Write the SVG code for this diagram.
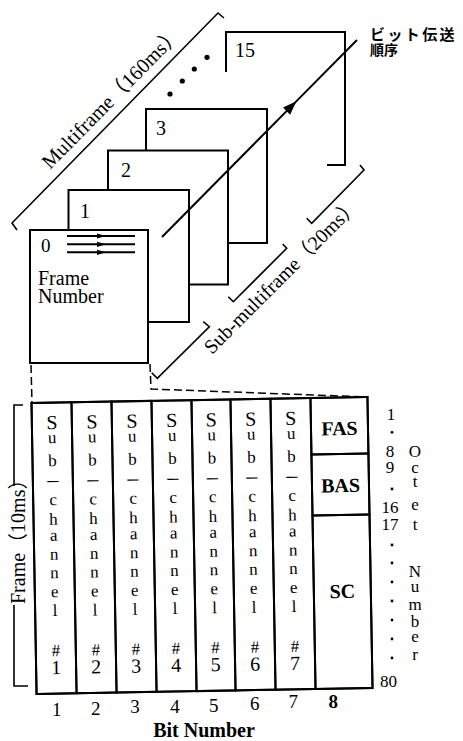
<svg xmlns="http://www.w3.org/2000/svg" width="463" height="741" viewBox="0 0 463 741">
<style>
.fr{fill:#fff;stroke:#000;stroke-width:2}
.ln{fill:none;stroke:#000;stroke-width:2}
.br{fill:none;stroke:#000;stroke-width:1.6}
.dsh{fill:none;stroke:#000;stroke-width:1.5;stroke-dasharray:8 4}
.t{font-family:"Liberation Serif","Noto Sans CJK JP",serif;fill:#000}
.s20{font-size:20px}
.s17{font-size:17px}
.s19{font-size:19px}
.jp{font-family:"Noto Sans CJK JP",sans-serif;font-weight:bold;fill:#000}
.col{font-family:"Liberation Serif",serif;font-size:17px;text-anchor:middle;fill:#000}
.col .S{font-size:20px}
.col .d{font-size:22px}
.col .h{font-size:17px}
.col .n{font-size:20px}
.mid{text-anchor:middle}
.b{font-weight:bold}
</style>
<defs>
<marker id="bigHead" markerUnits="userSpaceOnUse" markerWidth="20" markerHeight="20" orient="auto" overflow="visible">
<path d="M2,0 L-12,-5 L-12,5 Z" fill="#000"/>
</marker>
<marker id="smallHead" markerUnits="userSpaceOnUse" markerWidth="12" markerHeight="12" orient="auto" overflow="visible">
<path d="M2,0 L-7,-2.6 L-7,2.6 Z" fill="#000"/>
</marker>
</defs>

<!-- frames back to front -->
<g id="frame15">
<path class="ln" d="M226,72 V32 H345 V165 H327"/>
<text class="t s20" x="235" y="57">15</text>
</g>
<g id="ellipsis">
<circle cx="170" cy="94" r="2.6"/>
<circle cx="182.3" cy="81" r="2.6"/>
<circle cx="194.3" cy="69" r="2.6"/>
<circle cx="207" cy="57.3" r="2.6"/>
</g>
<g id="frame3">
<rect class="fr" x="146" y="109" width="121" height="134"/>
<text class="t s20" x="156" y="135">3</text>
</g>
<g id="frame2">
<rect class="fr" x="108" y="150.5" width="120" height="134"/>
<text class="t s20" x="121" y="177">2</text>
</g>
<g id="frame1">
<rect class="fr" x="68.5" y="190" width="120.5" height="132"/>
<text class="t s20" x="80" y="218">1</text>
</g>
<g id="frame0">
<rect class="fr" x="30" y="230" width="118" height="133"/>
<text class="t s19" x="41" y="252">0</text>
<path class="ln" stroke-width="1.6" d="M67,236 L104,236 L135,236" marker-mid="url(#smallHead)"/>
<path class="ln" stroke-width="1.6" d="M67,244.3 L104,244.3 L135,244.3" marker-mid="url(#smallHead)"/>
<path class="ln" stroke-width="1.6" d="M67,252.3 L104,252.3 L135,252.3" marker-mid="url(#smallHead)"/>
<text class="t s20" x="38" y="285">Frame</text>
<text class="t s20" x="38" y="303">Number</text>
</g>

<g id="connectors">
<path class="ln" stroke-width="3" d="M162,237 L295,102.6 L357,40" marker-mid="url(#bigHead)"/>
<path class="br" d="M17,230 L12,223 L218,13 L224,18"/>
<path class="br" d="M151.7,372.7 L157.3,378.3 L209.3,326.7 L203.3,321.7"/>
<path class="br" d="M228.3,296.7 L233.3,301.7 L286.7,248.3 L282.7,244"/>
<path class="br" d="M306.7,218.3 L311.7,223.3 L364,170 L360,165"/>
<path class="dsh" d="M31,365 L32,403"/>
<path class="dsh" d="M150,364 L151,389 L367,397"/>
<path class="br" d="M23,405 H14 V486"/>
<path class="br" d="M14,605 V686 H28"/>
</g>

<g id="labels">
<text class="t" style="font-size:20.5px" transform="translate(50,170) rotate(-45.5)">Multiframe（160ms）</text>
<text class="t s20" transform="translate(212,355) rotate(-45)">Sub-multiframe（20ms）</text>
<text class="t s20" transform="translate(25,604) rotate(-90)">Frame（10ms）</text>
<text class="jp" style="font-size:15px;letter-spacing:2.4px" x="370" y="40">ビット伝送</text>
<text class="jp" style="font-size:14px" x="370" y="54.5">順序</text>
</g>

<g id="table" transform="rotate(-1 202 545)">
<rect class="ln" x="34" y="400" width="336" height="291" stroke-width="2.2"/>
<g id="sub1">
<rect class="ln" x="34" y="400" width="40" height="291"/>
<text class="col"><tspan class="S" x="54" y="426.5">S</tspan><tspan x="54" y="440.5">u</tspan><tspan x="54" y="463.5">b</tspan><tspan class="d" x="54" y="484">–</tspan><tspan x="54" y="502.5">c</tspan><tspan x="54" y="522">h</tspan><tspan x="54" y="538">a</tspan><tspan x="54" y="557">n</tspan><tspan x="54" y="575.5">n</tspan><tspan x="54" y="594.5">e</tspan><tspan x="54" y="613.5">l</tspan><tspan class="h" x="54" y="653.5">#</tspan><tspan class="n" x="54" y="671.5">1</tspan></text>
</g>
<g id="sub2">
<rect class="ln" x="74" y="400" width="40" height="291"/>
<text class="col"><tspan class="S" x="94" y="426.5">S</tspan><tspan x="94" y="440.5">u</tspan><tspan x="94" y="463.5">b</tspan><tspan class="d" x="94" y="484">–</tspan><tspan x="94" y="502.5">c</tspan><tspan x="94" y="522">h</tspan><tspan x="94" y="538">a</tspan><tspan x="94" y="557">n</tspan><tspan x="94" y="575.5">n</tspan><tspan x="94" y="594.5">e</tspan><tspan x="94" y="613.5">l</tspan><tspan class="h" x="94" y="653.5">#</tspan><tspan class="n" x="94" y="671.5">2</tspan></text>
</g>
<g id="sub3">
<rect class="ln" x="114" y="400" width="40" height="291"/>
<text class="col"><tspan class="S" x="134" y="426.5">S</tspan><tspan x="134" y="440.5">u</tspan><tspan x="134" y="463.5">b</tspan><tspan class="d" x="134" y="484">–</tspan><tspan x="134" y="502.5">c</tspan><tspan x="134" y="522">h</tspan><tspan x="134" y="538">a</tspan><tspan x="134" y="557">n</tspan><tspan x="134" y="575.5">n</tspan><tspan x="134" y="594.5">e</tspan><tspan x="134" y="613.5">l</tspan><tspan class="h" x="134" y="653.5">#</tspan><tspan class="n" x="134" y="671.5">3</tspan></text>
</g>
<g id="sub4">
<rect class="ln" x="154" y="400" width="40" height="291"/>
<text class="col"><tspan class="S" x="174" y="426.5">S</tspan><tspan x="174" y="440.5">u</tspan><tspan x="174" y="463.5">b</tspan><tspan class="d" x="174" y="484">–</tspan><tspan x="174" y="502.5">c</tspan><tspan x="174" y="522">h</tspan><tspan x="174" y="538">a</tspan><tspan x="174" y="557">n</tspan><tspan x="174" y="575.5">n</tspan><tspan x="174" y="594.5">e</tspan><tspan x="174" y="613.5">l</tspan><tspan class="h" x="174" y="653.5">#</tspan><tspan class="n" x="174" y="671.5">4</tspan></text>
</g>
<g id="sub5">
<rect class="ln" x="194" y="400" width="39" height="291"/>
<text class="col"><tspan class="S" x="213.5" y="426.5">S</tspan><tspan x="213.5" y="440.5">u</tspan><tspan x="213.5" y="463.5">b</tspan><tspan class="d" x="213.5" y="484">–</tspan><tspan x="213.5" y="502.5">c</tspan><tspan x="213.5" y="522">h</tspan><tspan x="213.5" y="538">a</tspan><tspan x="213.5" y="557">n</tspan><tspan x="213.5" y="575.5">n</tspan><tspan x="213.5" y="594.5">e</tspan><tspan x="213.5" y="613.5">l</tspan><tspan class="h" x="213.5" y="653.5">#</tspan><tspan class="n" x="213.5" y="671.5">5</tspan></text>
</g>
<g id="sub6">
<rect class="ln" x="233" y="400" width="40" height="291"/>
<text class="col"><tspan class="S" x="253" y="426.5">S</tspan><tspan x="253" y="440.5">u</tspan><tspan x="253" y="463.5">b</tspan><tspan class="d" x="253" y="484">–</tspan><tspan x="253" y="502.5">c</tspan><tspan x="253" y="522">h</tspan><tspan x="253" y="538">a</tspan><tspan x="253" y="557">n</tspan><tspan x="253" y="575.5">n</tspan><tspan x="253" y="594.5">e</tspan><tspan x="253" y="613.5">l</tspan><tspan class="h" x="253" y="653.5">#</tspan><tspan class="n" x="253" y="671.5">6</tspan></text>
</g>
<g id="sub7">
<rect class="ln" x="273" y="400" width="40" height="291"/>
<text class="col"><tspan class="S" x="293" y="426.5">S</tspan><tspan x="293" y="440.5">u</tspan><tspan x="293" y="463.5">b</tspan><tspan class="d" x="293" y="484">–</tspan><tspan x="293" y="502.5">c</tspan><tspan x="293" y="522">h</tspan><tspan x="293" y="538">a</tspan><tspan x="293" y="557">n</tspan><tspan x="293" y="575.5">n</tspan><tspan x="293" y="594.5">e</tspan><tspan x="293" y="613.5">l</tspan><tspan class="h" x="293" y="653.5">#</tspan><tspan class="n" x="293" y="671.5">7</tspan></text>
</g>
<g id="fas">
<rect class="ln" x="313" y="400" width="57" height="56.5"/>
<text class="t s20 mid b" x="341.5" y="437.5">FAS</text>
</g>
<g id="bas">
<rect class="ln" x="313" y="456.5" width="57" height="61"/>
<text class="t s20 mid b" x="341.5" y="494.5">BAS</text>
</g>
<g id="sc">
<rect class="ln" x="313" y="517.5" width="57" height="173.5"/>
<text class="t s20 mid b" x="341.5" y="600.5">SC</text>
</g>
</g>

<g id="bitNumbers">
<text class="t s19 mid" x="56.7" y="716">1</text>
<text class="t s19 mid" x="95.8" y="715">2</text>
<text class="t s19 mid" x="135" y="713.3">3</text>
<text class="t s19 mid" x="175" y="712.7">4</text>
<text class="t s19 mid" x="213.8" y="711.7">5</text>
<text class="t s19 mid" x="254.7" y="710">6</text>
<text class="t s19 mid" x="293.3" y="708.3">7</text>
<text class="t s19 mid b" x="333.3" y="708.3">8</text>
<text class="t mid b s20" x="204" y="737">Bit Number</text>
</g>

<g id="octetNumbers">
<text class="t s17 mid"><tspan x="391" y="420">1</tspan><tspan x="390" y="456.7">8</tspan><tspan x="390" y="473">9</tspan><tspan x="390" y="513">16</tspan><tspan x="390" y="530">17</tspan><tspan x="388.5" y="687">80</tspan></text>
<g id="octetDots">
<circle cx="392" cy="432.3" r="1.4"/>
<circle cx="392" cy="489" r="1.4"/>
<circle cx="392" cy="545" r="1.4"/>
<circle cx="392" cy="563" r="1.4"/>
<circle cx="392" cy="582" r="1.4"/>
<circle cx="392" cy="601" r="1.4"/>
<circle cx="392" cy="620" r="1.4"/>
<circle cx="392" cy="639" r="1.4"/>
<circle cx="392" cy="658" r="1.4"/>
</g>
<text class="t s17 mid"><tspan x="415" y="456.7">O</tspan><tspan x="415" y="473">c</tspan><tspan x="415" y="486.7">t</tspan><tspan x="415" y="510">e</tspan><tspan x="415" y="530">t</tspan><tspan x="415" y="576.7">N</tspan><tspan x="415" y="591.7">u</tspan><tspan x="415" y="610">m</tspan><tspan x="415" y="626.7">b</tspan><tspan x="415" y="641.7">e</tspan><tspan x="415" y="660">r</tspan></text>
</g>
</svg>
